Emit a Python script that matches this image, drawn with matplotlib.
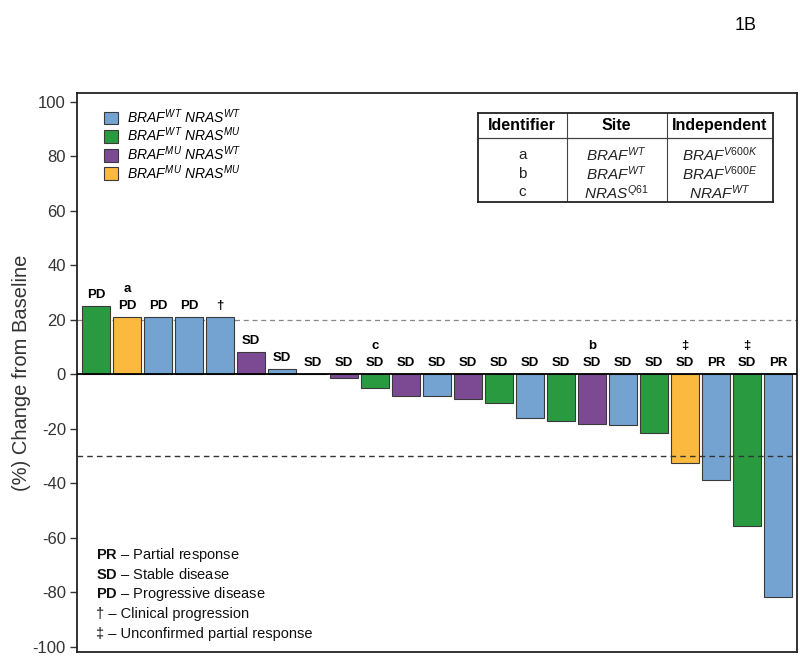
import matplotlib
matplotlib.use("Agg")
import matplotlib.pyplot as plt
from matplotlib.patches import Patch

plt.rcParams['font.family'] = ['Liberation Sans', 'DejaVu Sans']
plt.rcParams['mathtext.fontset'] = 'custom'
plt.rcParams['mathtext.rm'] = 'Liberation Sans'
plt.rcParams['mathtext.it'] = 'Liberation Sans:italic'
plt.rcParams['mathtext.bf'] = 'Liberation Sans:bold'
plt.rcParams['axes.unicode_minus'] = False

# Best % change from baseline, one bar per patient (waterfall order)
values = [25, 21, 21, 21, 21, 8, 1.8, 0, -1.2, -4.9, -8.1, -8, -9.2, -10.7,
          -16.2, -17.2, -18.1, -18.7, -21.4, -32.6, -38.8, -55.7, -81.9]
groups = ['G', 'Y', 'B', 'B', 'B', 'P', 'B', 'B', 'P', 'G', 'P', 'B', 'P', 'G',
          'B', 'G', 'P', 'B', 'G', 'Y', 'B', 'G', 'B']
responses = ['PD', 'PD', 'PD', 'PD', '\u2020', 'SD', 'SD', 'SD', 'SD', 'SD', 'SD', 'SD',
             'SD', 'SD', 'SD', 'SD', 'SD', 'SD', 'SD', 'SD', 'PR', 'SD', 'PR']
marks = ['', 'a', '', '', '', '', '', '', '', 'c', '', '', '', '', '', '', 'b',
         '', '', '\u2021', '', '\u2021', '']

group_colors = {'B': '#74a3d2', 'G': '#2a9a40', 'P': '#7c4a93', 'Y': '#fbb93f'}
group_labels = {
    'B': r'$BRAF^{WT}\ NRAS^{WT}$',
    'G': r'$BRAF^{WT}\ NRAS^{MU}$',
    'P': r'$BRAF^{MU}\ NRAS^{WT}$',
    'Y': r'$BRAF^{MU}\ NRAS^{MU}$',
}

table_header = ['Identifier', 'Site', 'Independent']
table_rows = [
    ['a', r'$BRAF^{WT}$', r'$BRAF^{V600K}$'],
    ['b', r'$BRAF^{WT}$', r'$BRAF^{V600E}$'],
    ['c', r'$NRAS^{Q61}$', r'$NRAF^{WT}$'],
]

key_lines = [('PR', 'Partial response'), ('SD', 'Stable disease'),
             ('PD', 'Progressive disease'), ('\u2020', 'Clinical progression'),
             ('\u2021', 'Unconfirmed partial response')]

fig = plt.figure(figsize=(8, 6.57), dpi=100)
ax = fig.add_axes([77 / 800, 1 - 652 / 657, 720 / 800, 559 / 657])

x = list(range(len(values)))
colors = [group_colors[g] for g in groups]
ax.bar(x, values, width=0.88, color=colors, edgecolor='#3a3a3a', linewidth=0.8, zorder=2)

ax.axhline(0, color='black', linewidth=1.3, zorder=3)
ax.axhline(20, color='#888888', linewidth=0.9, linestyle=(0, (4, 3)), zorder=1)
ax.axhline(-30, color='#333333', linewidth=1.0, linestyle=(0, (4, 3)), zorder=4)

ax.set_xlim(-0.61, len(values) - 0.39)
ax.set_ylim(-102, 103.3)
ax.set_yticks(range(-100, 101, 20))
ax.set_xticks([])
ax.tick_params(axis='y', labelsize=12, colors='#333333', length=5, width=1, pad=3)
for s in ax.spines.values():
    s.set_linewidth(1.3)
    s.set_color('#222222')
ax.set_ylabel('(%) Change from Baseline', fontsize=14.5, color='#333333', labelpad=1)

# response labels above each bar
for xi, v, r, m in zip(x, values, responses, marks):
    base = max(v, 0) + 2.0
    ax.text(xi, base, r, ha='center', va='bottom', fontsize=9.5, fontweight='bold', zorder=5)
    if m:
        ax.text(xi, base + 6.2, m, ha='center', va='bottom', fontsize=9.5, fontweight='bold', zorder=5)

# genotype legend
handles = [Patch(facecolor=group_colors[k], edgecolor='#3a3a3a', linewidth=0.8,
                 label=group_labels[k]) for k in ['B', 'G', 'P', 'Y']]
leg = ax.legend(handles=handles, loc='upper left', bbox_to_anchor=(0.02, 0.997),
                frameon=False, fontsize=10, handlelength=1.05, handleheight=1.05,
                handletextpad=0.6, labelspacing=0.0)

# response key at bottom left
for i, (abbr, desc) in enumerate(key_lines):
    yk = 0.1735 - i * 0.0352
    if abbr in ('PR', 'SD', 'PD'):
        t = r'$\bf{' + abbr + '}$ \u2013 ' + desc
    else:
        t = abbr + ' \u2013 ' + desc
    ax.text(0.027, yk, t, transform=ax.transAxes, fontsize=10.5, va='center', color='#111111')

# identifier table
tx = fig.add_axes([478 / 800, 1 - 202 / 657, 295 / 800, 89 / 657])
tx.set_xlim(0, 1)
tx.set_ylim(0, 1)
tx.set_xticks([])
tx.set_yticks([])
for s in tx.spines.values():
    s.set_linewidth(1.3)
    s.set_color('#222222')
col_edges = [0, 0.3, 0.64, 1]
head_y = 1 - 25 / 89
for ce in col_edges[1:-1]:
    tx.plot([ce, ce], [0, 1], color='#444444', linewidth=0.8)
tx.plot([0, 1], [head_y, head_y], color='#444444', linewidth=0.9)
centers = [(col_edges[i] + col_edges[i + 1]) / 2 for i in range(3)]
for c, h in zip(centers, table_header):
    tx.text(c, (1 + head_y) / 2, h, ha='center', va='center', fontsize=11.5, fontweight='bold')
row_y = [head_y - 0.19, head_y - 0.40, head_y - 0.61]
for ry, row in zip(row_y, table_rows):
    for c, cell in zip(centers, row):
        tx.text(c, ry, cell, ha='center', va='center', fontsize=11, color='#222222')

fig.text(746 / 800, 1 - 25 / 657, '1B', ha='center', va='center', fontsize=13)

fig.savefig('out.png', dpi=100)
